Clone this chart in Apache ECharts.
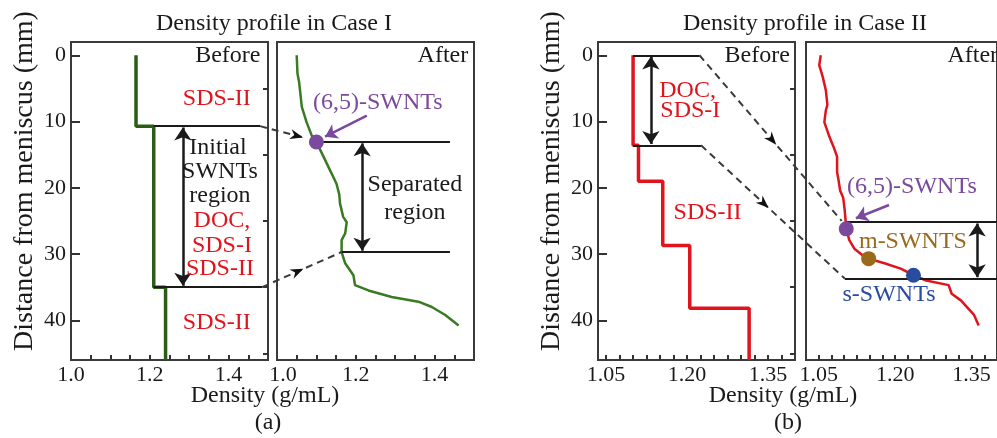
<!DOCTYPE html>
<html>
<head>
<meta charset="utf-8">
<script src="https://cdn.jsdelivr.net/npm/echarts@6/dist/echarts.min.js"></script>
<style>
  html, body { margin: 0; padding: 0; background: #fff; }
  #chart { width: 997px; height: 438px; }
</style>
</head>
<body>
<div id="chart"></div>
<script>
// Case I, before centrifugation: step profile (density g/mL vs distance mm)
const beforeIDensity = [1.165, 1.165, 1.21, 1.21, 1.24, 1.24]
const beforeIDepth = [0, 10.7, 10.7, 35, 35, 46]
// Case I, after
const afterIDensity = [1.05, 1.052, 1.056, 1.063, 1.075, 1.088, 1.10, 1.118, 1.139, 1.151, 1.158, 1.16, 1.168, 1.177, 1.173, 1.164, 1.164, 1.173, 1.194, 1.198, 1.232, 1.291, 1.359, 1.393, 1.427, 1.461]
const afterIDepth = [0, 2.8, 4.0, 7.8, 10.1, 12.1, 13.1, 15.3, 17.9, 19.4, 21.0, 22.4, 24.4, 25.2, 26.9, 27.9, 29.7, 31.4, 33.2, 34.7, 35.5, 36.5, 37.2, 38.0, 39.2, 40.8]
// Case II, before
const beforeIIDensity = [1.10, 1.10, 1.11, 1.11, 1.155, 1.155, 1.205, 1.205, 1.315, 1.315]
const beforeIIDepth = [0, 13.6, 13.6, 19, 19, 28.7, 28.7, 38.2, 38.2, 46]
// Case II, after
const afterIIDensity = [1.054, 1.051, 1.058, 1.064, 1.067, 1.064, 1.061, 1.07, 1.079, 1.086, 1.086, 1.089, 1.092, 1.098, 1.101, 1.103, 1.104, 1.11, 1.12, 1.136, 1.148, 1.179, 1.211, 1.236, 1.261, 1.305, 1.311, 1.329, 1.355, 1.364]
const afterIIDepth = [0, 1.5, 3.3, 5.3, 7.5, 8.3, 10.1, 12.1, 13.8, 15.3, 17.6, 18.9, 20.4, 21.5, 23.4, 25.2, 26.2, 27.9, 29.2, 30.2, 30.7, 31.4, 32.2, 33.2, 34.0, 34.7, 36.0, 37.0, 39.2, 40.8]

// band positions (points on the after curves)
const bandNamesI = ['(6,5)-SWNTs']
const bandDensityI = [1.10]
const bandDepthI = [13.1]
const bandNamesII = ['(6,5)-SWNTs', 'm-SWNTS', 's-SWNTs']
const bandDensityII = [1.104, 1.148, 1.236]
const bandDepthII = [26.2, 30.7, 33.2]

// ticks
const xTicksI = [1.05, 1.10, 1.15, 1.20, 1.25, 1.30, 1.35, 1.40, 1.45]
const xLabelsI = [1.0, 1.2, 1.4]
const xTicksII = [1.05, 1.075, 1.10, 1.125, 1.15, 1.175, 1.20, 1.225, 1.25, 1.275, 1.30, 1.325, 1.35, 1.375]
const xLabelsII = [1.05, 1.20, 1.35]
const yLabels = [0, 10, 20, 30, 40]
const yMinorTicks = [5, 15, 25, 35, 45]

const FONT = 'Liberation Serif'
const GREEN_DARK = '#2c5c18'
const GREEN = '#3a7a22'
const RED = '#e0141c'
const PURPLE = '#7b4a9c'
const BROWN = '#9a6a1c'
const BLUE = '#2a4c9e'
const INK = '#1a1a1a'
const bandColors = [PURPLE, BROWN, BLUE]

const chart = echarts.init(document.getElementById('chart'))

const grids = [
  { left: 71, top: 42, width: 197, height: 318 },
  { left: 277, top: 42, width: 197, height: 318 },
  { left: 598, top: 42, width: 197, height: 318 },
  { left: 806, top: 42, width: 200, height: 318 }
].map(g => Object.assign(g, { show: true, borderColor: '#3a3a3a', borderWidth: 2 }))

const xAxisOf = (gi, min, max, ticks, labels, digits, nudgeFirst) => ({
  gridIndex: gi, type: 'value', min, max,
  axisLine: { show: false, onZero: false },
  splitLine: { show: false },
  axisTick: { show: true, inside: true, length: 5, customValues: ticks, lineStyle: { color: '#333', width: 2 } },
  axisLabel: {
    customValues: labels, margin: 4, fontSize: 22, fontFamily: FONT, color: INK,
    formatter: v => (nudgeFirst && v === labels[0]) ? '{s|' + v.toFixed(digits) + '}' : v.toFixed(digits),
    rich: { s: { fontSize: 22, fontFamily: FONT, color: INK, padding: [0, 0, 0, 12] } }
  }
})

const yMajor = gi => ({
  gridIndex: gi, type: 'value', inverse: true, min: -2, max: 46,
  name: 'Distance from meniscus (mm)', nameLocation: 'middle', nameGap: 32,
  nameTextStyle: { fontSize: 28, fontFamily: FONT, color: INK, padding: [0, 0, 0, 40] },
  axisLine: { show: false, onZero: false }, splitLine: { show: false },
  axisTick: { show: true, inside: true, length: 9, customValues: yLabels, lineStyle: { color: '#333', width: 2 } },
  axisLabel: { customValues: yLabels, margin: 5, fontSize: 22, fontFamily: FONT, color: INK }
})
const yMinor = gi => ({
  gridIndex: gi, type: 'value', inverse: true, min: -2, max: 46,
  axisLine: { show: false, onZero: false }, splitLine: { show: false }, axisLabel: { show: false },
  axisTick: { show: true, inside: true, length: 5, customValues: yMinorTicks, lineStyle: { color: '#333', width: 2 } }
})
const yBlank = gi => ({
  gridIndex: gi, type: 'value', inverse: true, min: -2, max: 46,
  axisLine: { show: false, onZero: false }, splitLine: { show: false }, axisLabel: { show: false }, axisTick: { show: false }
})

// grid -> [xAxisIndex, yAxisIndex]
const AX = [[0, 0], [1, 2], [2, 3], [3, 5]]

const curve = (gi, xs, ys, color, width) => ({
  type: 'line', xAxisIndex: AX[gi][0], yAxisIndex: AX[gi][1],
  data: xs.map((x, k) => [x, ys[k]]),
  symbol: 'none', lineStyle: { color, width }, silent: true, animation: false, z: 3
})

const marks = (gi, pairs, opts) => ({
  type: 'line', xAxisIndex: AX[gi][0], yAxisIndex: AX[gi][1], data: [], animation: false,
  markLine: Object.assign({
    silent: true, animation: false, label: { show: false },
    data: pairs.map(p => [{ coord: p[0] }, { coord: p[1] }])
  }, opts)
})
const plainLines = (gi, pairs) => marks(gi, pairs, { symbol: ['none', 'none'], lineStyle: { type: 'solid', color: INK, width: 2 } })
const doubleArrow = (gi, pairs) => marks(gi, pairs, { symbol: ['arrow', 'arrow'], symbolSize: 13, lineStyle: { type: 'solid', color: INK, width: 2.5 } })
const pointer = (gi, pairs) => marks(gi, pairs, { symbol: ['none', 'arrow'], symbolSize: 12, lineStyle: { type: 'solid', color: PURPLE, width: 2.5 } })

const texts = (gi, items) => ({
  type: 'scatter', xAxisIndex: AX[gi][0], yAxisIndex: AX[gi][1], symbolSize: 0, silent: true, animation: false, z: 5,
  itemStyle: { color: 'rgba(0,0,0,0)', opacity: 1 },
  label: { show: true, position: 'inside', fontSize: 24, fontFamily: FONT, opacity: 1 },
  data: items.map(t => ({ value: [t[1], t[2]], label: { formatter: t[0], color: t[3] || INK, align: t[4] || 'center' } }))
})

const dots = (gi, xs, ys, colors) => ({
  type: 'scatter', xAxisIndex: AX[gi][0], yAxisIndex: AX[gi][1], symbolSize: 15, silent: true, animation: false, z: 6,
  data: xs.map((x, k) => ({ value: [x, ys[k]], itemStyle: { color: colors[k], opacity: 1 } }))
})

const option = {
  animation: false,
  backgroundColor: '#fff',
  grid: grids,
  xAxis: [
    xAxisOf(0, 1.0, 1.5, xTicksI, xLabelsI, 1, false),
    xAxisOf(1, 1.0, 1.5, xTicksI, xLabelsI, 1, true),
    xAxisOf(2, 1.035, 1.40, xTicksII, xLabelsII, 2, false),
    xAxisOf(3, 1.025, 1.40, xTicksII, xLabelsII, 2, false)
  ],
  yAxis: [yMajor(0), yMinor(0), yBlank(1), yMajor(2), yMinor(2), yBlank(3)],
  series: [
    // Case I before
    curve(0, beforeIDensity, beforeIDepth, GREEN_DARK, 3.5),
    plainLines(0, [[[1.21, 10.7], [1.48, 10.7]], [[1.21, 35], [1.485, 35]]]),
    doubleArrow(0, [[[1.284, 10.9], [1.284, 34.8]]]),
    texts(0, [
      ['Before', 1.398, 0],
      ['SDS-II', 1.37, 6.5, RED],
      ['Initial', 1.373, 14.0],
      ['SWNTs', 1.378, 17.6],
      ['region', 1.378, 21.2],
      ['DOC,', 1.383, 24.9, RED],
      ['SDS-I', 1.383, 28.7, RED],
      ['SDS-II', 1.378, 32.2, RED],
      ['SDS-II', 1.37, 40.3, RED]
    ]),
    // Case I after
    curve(1, afterIDensity, afterIDepth, GREEN, 2.5),
    plainLines(1, [[[1.10, 13.1], [1.439, 13.1]], [[1.164, 29.7], [1.439, 29.7]]]),
    doubleArrow(1, [[[1.216, 13.3], [1.216, 29.5]]]),
    pointer(1, [[[1.228, 9.1], [1.122, 12.3]]]),
    texts(1, [
      ['After', 1.421, 0],
      [bandNamesI[0], 1.256, 7.2, PURPLE],
      ['Separated', 1.35, 19.6],
      ['region', 1.35, 23.7]
    ]),
    dots(1, bandDensityI, bandDepthI, bandColors),
    // Case II before
    curve(2, beforeIIDensity, beforeIIDepth, RED, 3.5),
    plainLines(2, [[[1.10, 0], [1.223, 0]], [[1.10, 13.6], [1.226, 13.6]]]),
    doubleArrow(2, [[[1.133, 0.2], [1.133, 13.4]]]),
    texts(2, [
      ['Before', 1.330, 0],
      ['DOC,', 1.201, 5.3, RED],
      ['SDS-I', 1.206, 8.3, RED],
      ['SDS-II', 1.238, 23.8, RED]
    ]),
    // Case II after
    curve(3, afterIIDensity, afterIIDepth, RED, 2.5),
    plainLines(3, [[[1.104, 25.2], [1.40, 25.2]], [[1.101, 33.7], [1.40, 33.7]]]),
    doubleArrow(3, [[[1.361, 25.4], [1.361, 33.5]]]),
    pointer(3, [[[1.188, 22.6], [1.123, 24.6]]]),
    texts(3, [
      ['After', 1.3026, 0, INK, 'left'],
      [bandNamesII[0], 1.233, 19.9, PURPLE],
      [bandNamesII[1], 1.235, 28.2, BROWN],
      [bandNamesII[2], 1.188, 36.2, BLUE]
    ]),
    dots(3, bandDensityII, bandDepthII, bandColors)
  ]
}

chart.setOption(option)

// dashed connectors between the before and after panels
const toPx = (gi, p) => chart.convertToPixel({ gridIndex: gi }, p)
const connectors = [
  { a: toPx(0, [1.48, 10.7]), b: toPx(1, [1.066, 12.4]), t: 1.0 },
  { a: toPx(0, [1.485, 35]), b: toPx(1, [1.164, 29.7]), t: 0.52 },
  { a: toPx(2, [1.223, 0]), b: toPx(3, [1.095, 25.0]), t: 0.54 },
  { a: toPx(2, [1.226, 13.6]), b: toPx(3, [1.101, 33.7]), t: 0.47 }
]
const graphic = []
connectors.forEach(c => {
  graphic.push({
    type: 'line', silent: true, z: 10,
    shape: { x1: c.a[0], y1: c.a[1], x2: c.b[0], y2: c.b[1] },
    style: { stroke: '#3a3a3a', lineWidth: 2, lineDash: [7, 5] }
  })
  const dx = c.b[0] - c.a[0], dy = c.b[1] - c.a[1]
  const len = Math.sqrt(dx * dx + dy * dy)
  const ux = dx / len, uy = dy / len, nx = -uy, ny = ux
  const tx = c.a[0] + dx * c.t, ty = c.a[1] + dy * c.t
  const L = 13, W = 5, N = 4
  graphic.push({
    type: 'polygon', silent: true, z: 11,
    shape: { points: [
      [tx, ty],
      [tx - ux * L + nx * W, ty - uy * L + ny * W],
      [tx - ux * (L - N), ty - uy * (L - N)],
      [tx - ux * L - nx * W, ty - uy * L - ny * W]
    ] },
    style: { fill: '#111' }
  })
})

const label = (text, x, y, size) => ({
  type: 'text', x, y, silent: true,
  style: { text, fill: INK, font: size + 'px "' + FONT + '"', align: 'center', verticalAlign: 'middle' }
})
graphic.push(
  label('Density profile in Case I', 274, 24, 24),
  label('Density profile in Case II', 805, 24, 24),
  label('Density (g/mL)', 265, 396, 24),
  label('Density (g/mL)', 783, 396, 24),
  label('(a)', 268, 423, 24),
  label('(b)', 788, 423, 24)
)
chart.setOption({ graphic })
</script>
</body>
</html>
